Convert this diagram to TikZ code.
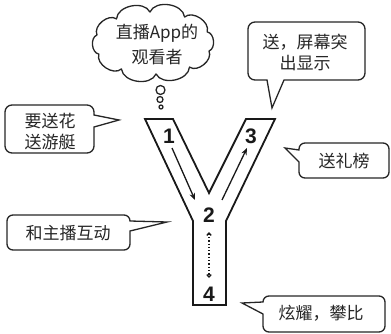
\documentclass[tikz,border=0pt]{standalone}
\usepackage{fontspec}
\setmainfont{Noto Sans CJK SC}
\newfontfamily\numfont{Liberation Sans}
\usetikzlibrary{arrows.meta,calc}
\begin{document}
\begin{tikzpicture}[x=1pt,y=-1pt,
  outline/.style={draw=black!90, line width=1.8pt, line join=miter},
  bubble/.style={draw=black!85, line width=1.3pt, fill=white},
  txt/.style={font=\fontsize{17}{21}\selectfont, text=black!85, align=center, inner sep=0pt},
  num/.style={font=\numfont\bfseries\fontsize{21}{21}\selectfont, text=black!90, inner sep=0pt},
  arr/.style={draw=black!90, line width=1.3pt, -{Stealth[length=7pt,width=5.5pt]}},
  dots/.style={draw=black!90, line width=1.3pt, dotted, {Straight Barb[length=2.5pt,width=4.5pt]}-{Straight Barb[length=2.5pt,width=4.5pt]}}
]
\useasboundingbox (0,0) rectangle (391,334);

% Y shape
\draw[outline] (145,119) -- (173,119) -- (209,193) -- (246,119) -- (275,119)
  -- (226,221) -- (226,305) -- (193,305) -- (193,221) -- cycle;

% numbers
\node[num] (n1) at (169,136) {1};
\node[num] (n3) at (251,136) {3};
\node[num] (n2) at (209,215) {2};
\node[num] (n4) at (209,294) {4};

% arrows
\draw[arr] ($(n1)+(3,12)$) -- ($(n2)+(-14,-15)$);
\draw[arr] ($(n2)+(13,-15)$) -- ($(n3)+(-4,12)$);
\draw[dots] ($(n2)+(0,17)$) -- ($(n4)+(0,-16)$);

% cloud
\coordinate (cloud) at (153,43);
\draw[bubble, line join=round] ($(cloud)+({58*cos(15)},{31*sin(15)})$)
  \foreach \k in {1,...,10} { to[bend left=75] ($(cloud)+({58*cos(15+\k*36)},{31*sin(15+\k*36)})$) } -- cycle;
\draw[bubble] (160.5,90) circle[radius=4.5pt];
\draw[bubble] (160,99.5) circle[radius=3pt];
\draw[bubble] (161,107) circle[radius=2pt];
\node[txt, font=\fontsize{17}{25}\selectfont] (tc) at (157,45) {直播App的\\观看者};

% bubble 1
\draw[bubble] (119,120) -- (94,127) [rounded corners=7pt] -- (94,153) -- (5,153)
  -- (5,105) -- (94,105) [sharp corners] -- (94,115) -- cycle;
\node[txt] (t1) at (50,132) {要送花\\送游艇};

% bubble 2
\draw[bubble] (272,108) -- (284,80) [rounded corners=7pt] -- (365,80) -- (365,22)
  -- (248,22) -- (248,80) [sharp corners] -- (267,80) -- cycle;
\node[txt] (t2) at (305,52) {送，屏幕突\\出显示};

% bubble 3
\draw[bubble] (285,148) -- (299,162) [rounded corners=6pt] -- (299,178) -- (389,178)
  -- (389,143) -- (299,143) [sharp corners] -- (299,150) -- cycle;
\node[txt] (t3) at (344,161) {送礼榜};

% bubble 4
\draw[bubble] (167,222) -- (130,231) [rounded corners=6pt] -- (130,250) -- (7,250)
  -- (7,215) -- (130,215) [sharp corners] -- (130,221) -- cycle;
\node[txt] (t4) at (68,233) {和主播互动};

% bubble 5
\draw[bubble] (242,303) -- (263,314) [rounded corners=6pt] -- (263,332) -- (385,332)
  -- (385,296) -- (263,296) [sharp corners] -- (263,302) -- cycle;
\node[txt] (t5) at (321,313) {炫耀，攀比};
\end{tikzpicture}
\end{document}
